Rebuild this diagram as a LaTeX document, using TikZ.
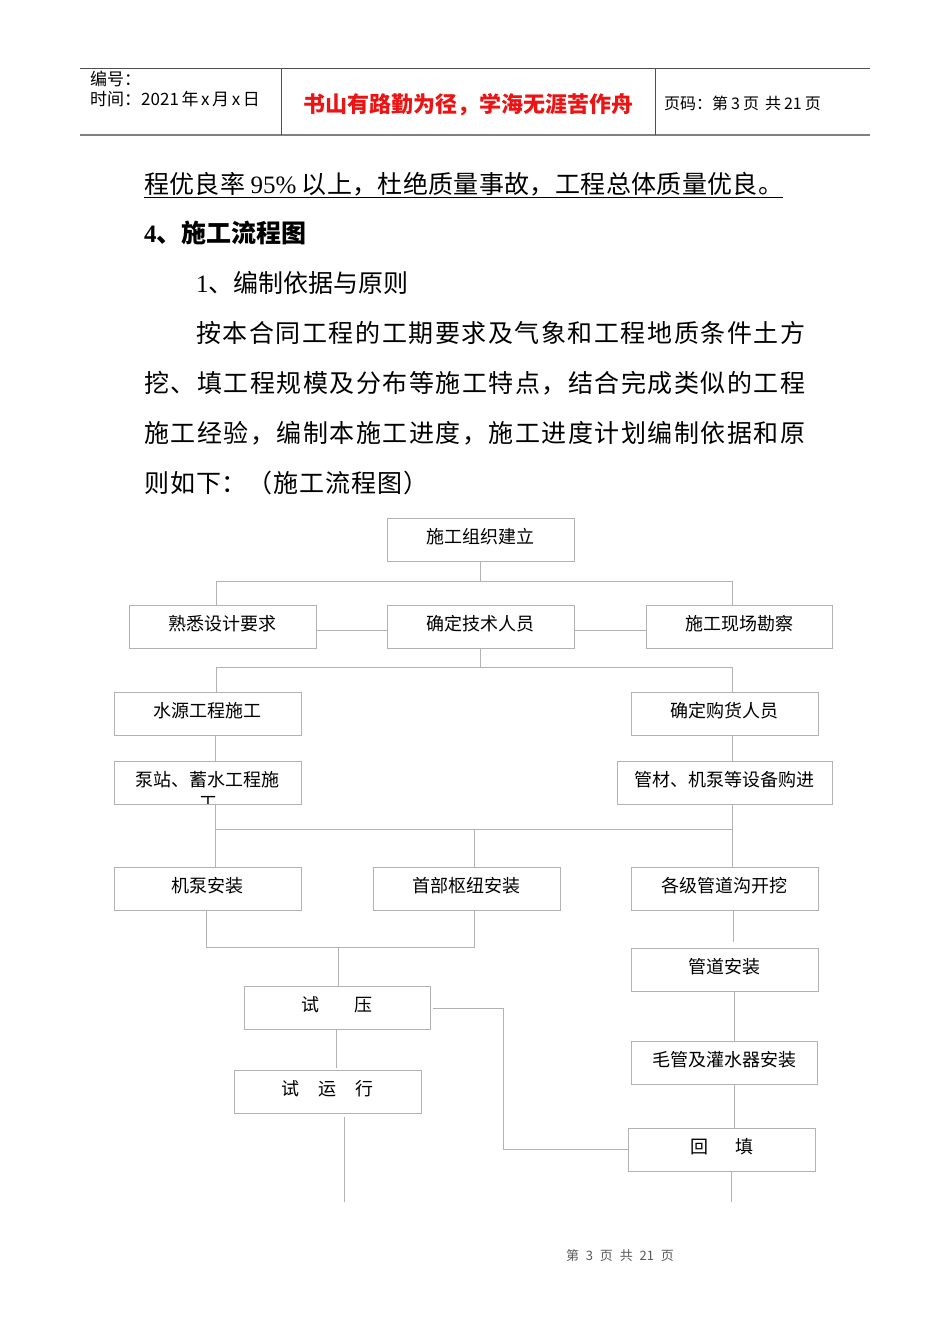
\documentclass[tikz,border=0pt]{standalone}
\usepackage{fontspec}
\setmainfont{Liberation Serif}
\newfontfamily\cjk{Noto Sans CJK SC}
\definecolor{boxgray}{RGB}{178,178,178}
\definecolor{hdrline}{RGB}{80,80,80}
\definecolor{hdrred}{RGB}{235,20,20}
\definecolor{foot}{RGB}{90,90,90}
\def\spreadchars#1{\spreadfirst#1\relax}
\def\spreadfirst#1{#1\spreadrest}
\def\spreadrest#1{\ifx\relax#1\else\hfil#1\expandafter\spreadrest\fi}
\tikzset{
  fbox/.style={draw=boxgray, line width=1pt, minimum height=43pt, inner sep=0pt,
    font=\cjk\fontsize{18}{20}\selectfont, text depth=7pt},
  conn/.style={draw=boxgray, line width=1pt},
  body/.style={anchor=base west, inner sep=0pt, font=\cjk\fontsize{25}{30}\selectfont},
  hdr/.style={inner sep=0pt, font=\cjk\fontsize{17}{20}\selectfont}
}
\begin{document}
\begin{tikzpicture}[x=1pt,y=-1pt]
\fill[white] (0,0) rectangle (950,1344);
\useasboundingbox (0,0) rectangle (950,1344);
% header
\draw[hdrline, line width=0.9pt] (80,68) -- (870,68);
\draw[gray, line width=2pt] (80,135) -- (870,135);
\draw[hdrline, line width=0.8pt] (281,68) -- (281,135);
\draw[hdrline, line width=0.8pt] (655,68) -- (655,135);
\node[hdr, anchor=base west] (h1) at (90,85) {编号：};
\node[hdr, anchor=base west] (h2) at (90,105) {时间：2021\hspace{2.6pt}年\hspace{2.6pt}x\hspace{2.6pt}月\hspace{2.6pt}x\hspace{2.6pt}日};
\node[inner sep=0pt, anchor=base, text=hdrred, font=\cjk\bfseries\fontsize{22}{24}\selectfont] (h3) at (468,112) {书山有路勤为径，学海无涯苦作舟};
\node[inner sep=0pt, anchor=base west, font=\cjk\fontsize{16}{18}\selectfont] (h4) at (664,109) {页码：第\hspace{3pt}3\hspace{3pt}页\hspace{6pt}共\hspace{3pt}21\hspace{3pt}页};
% body text
\node[body] (b1) at (144,193.5) {\hbox to 639pt{\spreadchars{程优良率{{\hspace{5pt}\rmfamily\fontsize{25}{30}\selectfont 95\%\hspace{5pt}}}以上，杜绝质量事故，工程总体质量优良。}}};
\draw[black, line width=1pt] (144,197) -- (783,197);
\node[body, font=\cjk\bfseries\fontsize{25}{30}\selectfont] (b2) at (144,242.5) {{\rmfamily\bfseries 4}、施工流程图};
\node[body] (b3) at (196,292.5) {{\rmfamily 1}、编制依据与原则};
\node[body] (b4) at (196,342.5) {\hbox to 609pt{\spreadchars{按本合同工程的工期要求及气象和工程地质条件土方}}};
\node[body] (b5) at (144,392.5) {\hbox to 661pt{\spreadchars{挖、填工程规模及分布等施工特点，结合完成类似的工程}}};
\node[body] (b6) at (144,442.5) {\hbox to 661pt{\spreadchars{施工经验，编制本施工进度，施工进度计划编制依据和原}}};
\node[body] (b7) at (144,492.5) {\hbox to 284pt{\spreadchars{则如下：（施工流程图）}}};
% flowchart boxes
\node[fbox, minimum width=187pt] (n1) at (480.5,539.5) {施工组织建立};
\node[fbox, minimum width=187pt] (n2) at (222.5,626.5) {熟悉设计要求};
\node[fbox, minimum width=187pt] (n3) at (480.5,626.5) {确定技术人员};
\node[fbox, minimum width=186pt] (n4) at (739,626.5) {施工现场勘察};
\node[fbox, minimum width=187pt] (n5) at (207.5,713.5) {水源工程施工};
\node[fbox, minimum width=187pt] (n6) at (724.5,713.5) {确定购货人员};
\node[fbox, minimum width=187pt] (n7) at (207.5,782.5) {泵站、蓄水工程施};
\begin{scope}
\clip (114.5,761.5) rectangle (300.5,803.5);
\node[inner sep=0pt, font=\cjk\fontsize{18}{20}\selectfont] (n7b) at (208,803) {工};
\end{scope}
\node[fbox, minimum width=215pt] (n8) at (724.5,782.5) {管材、机泵等设备购进};
\node[fbox, minimum width=187pt] (n9) at (207.5,888.5) {机泵安装};
\node[fbox, minimum width=187pt] (n10) at (466.5,888.5) {首部枢纽安装};
\node[fbox, minimum width=187pt] (n11) at (724.5,888.5) {各级管道沟开挖};
\node[fbox, minimum width=187pt] (n12) at (724.5,969.5) {管道安装};
\node[fbox, minimum width=186pt] (n13) at (337,1007.5) {试\hspace{35pt}压};
\node[fbox, minimum width=186pt] (n14) at (724,1062.5) {毛管及灌水器安装};
\node[fbox, minimum width=187pt] (n15) at (327.5,1091.5) {试\hspace{19pt}运\hspace{19pt}行};
\node[fbox, minimum width=187pt] (n16) at (722,1149.5) {回\hspace{28pt}填};
% connectors
\coordinate (j1L) at (216,581); \coordinate (j1R) at (732,581);
\draw[conn] (n1.south) -- (n1.south |- j1L);
\draw[conn] (j1L) -- (j1R);
\draw[conn] (j1L) -- (j1L |- n2.north);
\draw[conn] (j1R) -- (j1R |- n4.north);
\coordinate (hy) at (0,630);
\draw[conn] (n2.east |- hy) -- (n3.west |- hy);
\draw[conn] (n3.east |- hy) -- (n4.west |- hy);
\coordinate (j2L) at (216,667); \coordinate (j2R) at (732,667);
\draw[conn] (n3.south) -- (n3.south |- j2L);
\draw[conn] (j2L) -- (j2R);
\draw[conn] (j2L) -- (j2L |- n5.north);
\draw[conn] (j2R) -- (j2R |- n6.north);
\coordinate (xa) at (215,0); \coordinate (xb) at (732,0);
\draw[conn] (n5.south -| xa) -- (n7.north -| xa);
\draw[conn] (n6.south -| xb) -- (n8.north -| xb);
\coordinate (j3L) at (215,829); \coordinate (j3M) at (474,829); \coordinate (j3R) at (732,829);
\draw[conn] (n7.south -| j3L) -- (j3L) -- (j3R) -- (n8.south -| j3R);
\draw[conn] (j3L) -- (n9.north -| j3L);
\draw[conn] (j3M) -- (n10.north -| j3M);
\draw[conn] (j3R) -- (n11.north -| j3R);
\coordinate (j4L) at (206,947); \coordinate (j4M) at (338,947); \coordinate (j4R) at (474,947);
\draw[conn] (n9.south -| j4L) -- (j4L) -- (j4R) -- (n10.south -| j4R);
\draw[conn] (j4M) -- (n13.north -| j4M);
\coordinate (e11) at (733,942);
\draw[conn] (n11.south -| e11) -- (e11);
\coordinate (xc) at (734,0);
\draw[conn] (n12.south -| xc) -- (n14.north -| xc);
\draw[conn] (n14.south -| xc) -- (n16.north -| xc);
\coordinate (e16) at (731,1202);
\draw[conn] (n16.south -| e16) -- (e16);
\coordinate (k1) at (503,1008);
\draw[conn] ([xshift=2pt]n13.east |- k1) -- (k1) -- (k1 |- n16.west) -- (n16.west);
\coordinate (e13) at (336,1068);
\draw[conn] (n13.south -| e13) -- (e13);
\coordinate (s15) at (344,1117); \coordinate (e15) at (344,1202);
\draw[conn] (s15) -- (e15);
% footer
\node[inner sep=0pt, text=foot, font=\cjk\fontsize{13}{15}\selectfont] (ft) at (620,1256) {第\hspace{6.8pt}3\hspace{6.8pt}页\hspace{6.8pt}共\hspace{6.8pt}21\hspace{6.8pt}页};
\end{tikzpicture}
\end{document}
